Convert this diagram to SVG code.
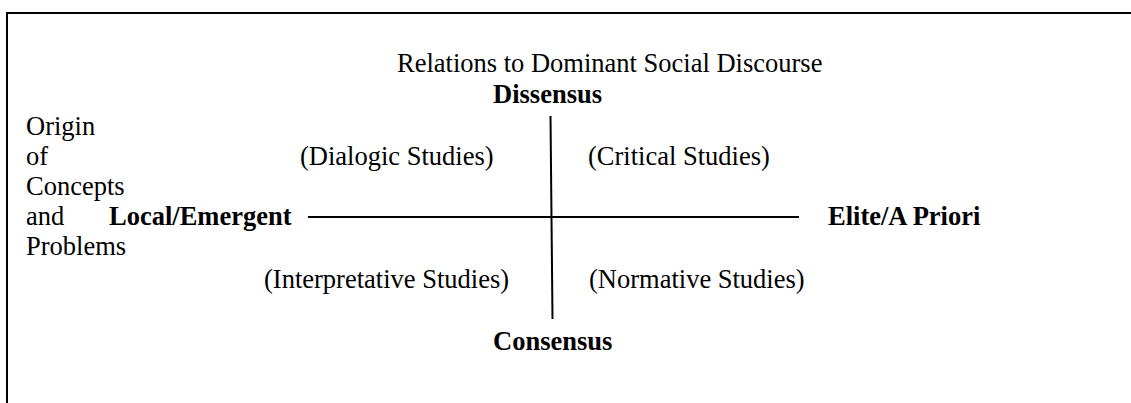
<svg xmlns="http://www.w3.org/2000/svg" width="1131" height="403" viewBox="0 0 1131 403">
  <style>
    text { font-family: "Liberation Serif", "Times New Roman", serif; font-size: 26.5px; fill: #000; }
    .b { font-weight: bold; }
    .rule { stroke: #000; stroke-width: 2; fill: none; }
  </style>
  <rect width="1131" height="403" fill="#fff"/>

  <!-- frame: top and left edges -->
  <g id="frame">
    <path class="rule" d="M7,403 V13 H1131"/>
  </g>

  <!-- axes -->
  <g id="connectors">
    <line class="rule" x1="308" y1="217" x2="799" y2="217"/>
    <line class="rule" x1="550.5" y1="116" x2="552.5" y2="319"/>
  </g>

  <g id="title">
    <text x="397" y="72">Relations to Dominant Social Discourse</text>
  </g>
  <g id="dissensus">
    <text class="b" x="493" y="103">Dissensus</text>
  </g>
  <g id="consensus">
    <text class="b" x="493" y="350">Consensus</text>
  </g>
  <g id="local-emergent">
    <text class="b" x="109" y="225">Local/Emergent</text>
  </g>
  <g id="elite-a-priori">
    <text class="b" x="828" y="225">Elite/A Priori</text>
  </g>
  <g id="origin-label">
    <text x="26" y="135">Origin</text>
    <text x="26" y="165">of</text>
    <text x="26" y="195">Concepts</text>
    <text x="26" y="225">and</text>
    <text x="26" y="255">Problems</text>
  </g>
  <g id="dialogic">
    <text x="300" y="165">(Dialogic Studies)</text>
  </g>
  <g id="critical">
    <text x="588" y="165">(Critical Studies)</text>
  </g>
  <g id="interpretative">
    <text x="264" y="288">(Interpretative Studies)</text>
  </g>
  <g id="normative">
    <text x="589" y="288">(Normative Studies)</text>
  </g>
</svg>
